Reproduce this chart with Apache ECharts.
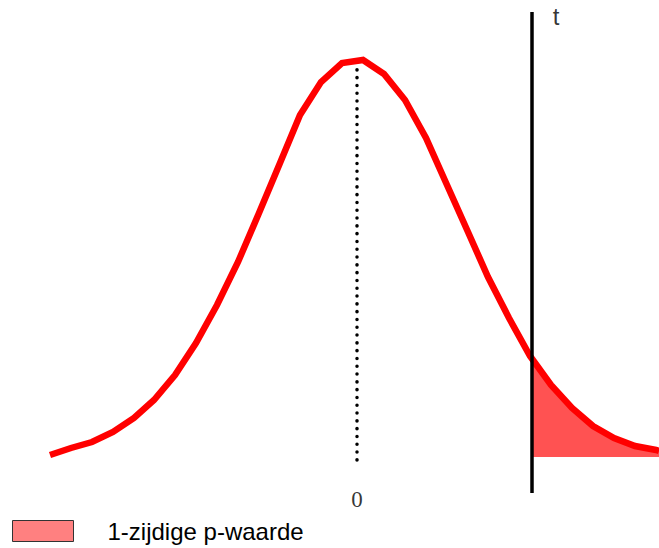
<!DOCTYPE html>
<html><head><meta charset="utf-8">
<script src="https://cdn.jsdelivr.net/npm/echarts@6/dist/echarts.min.js"></script>
<style>html,body{margin:0;padding:0;background:#fff}#c{width:659px;height:548px}</style>
</head><body><div id="c"></div>
<script>
// z-scores of the polyline vertices
const zValues = [-3.07,-2.86,-2.65,-2.44,-2.23,-2.03,-1.82,-1.61,-1.40,-1.19,-0.98,-0.77,-0.57,-0.36,-0.15,
                 0.06,0.27,0.48,0.69,0.90,1.11,1.31,1.52,1.73,1.94,2.15,2.36,2.57,2.78,2.99,3.02];
// density values at those vertices
const density = [0.002,0.009,0.015,0.025,0.039,0.057,0.082,0.114,0.152,0.195,0.244,0.294,0.342,0.375,0.394,
                 0.397,0.383,0.357,0.319,0.272,0.225,0.180,0.139,0.101,0.072,0.049,0.031,0.019,0.011,0.007,0.006];
const tValue = 1.75;          // observed t statistic
const tDensity = 0.100;       // curve height at t (read)
const centerValue = 0;        // mean
const centerDensity = 0.395;  // top of dotted line
const tickLabels = ['0'];
const tLabel = 't';
const legendLabel = '1-zijdige p-waarde';

const curve = zValues.map((z, i) => [z, density[i]]);
const tail = [[tValue, tDensity]].concat(curve.filter(p => p[0] > tValue));

const chart = echarts.init(document.getElementById('c'), null, {renderer: 'svg'});
chart.setOption({
  animation: false,
  backgroundColor: '#ffffff',
  grid: {left: 0, right: 0, top: 0, bottom: 0},
  xAxis: {type: 'value', min: -3.57, max: 3.02, show: false},
  yAxis: {type: 'value', min: -0.091, max: 0.457, show: false},
  legend: {
    left: 12, top: 519, padding: 0,
    itemWidth: 61, itemHeight: 21,
    icon: 'rect',
    data: [legendLabel],
    itemStyle: {color: '#ff8080', borderColor: '#333333', borderWidth: 1},
    textStyle: {fontFamily: 'Liberation Sans, Arial, sans-serif', fontSize: 24, color: '#000', padding: [0, 0, 0, 29]}
  },
  series: [
    {
      name: legendLabel, type: 'line', data: tail, symbol: 'none', z: 1,
      lineStyle: {width: 0, color: '#ff5252'},
      itemStyle: {color: '#ff8080'},
      areaStyle: {color: '#ff5252', opacity: 1}
    },
    {
      name: 'curve', type: 'line', data: curve, symbol: 'none', z: 3,
      lineStyle: {width: 6.5, color: '#ff0000', join: 'miter'}
    },
    {
      name: 'center', type: 'line', data: [[centerValue, centerDensity], [centerValue, -0.010]], symbol: 'none', z: 2,
      lineStyle: {width: 3.5, color: '#000', type: [0.1, 7.7], cap: 'round'}
    },
    {
      name: 'tline', type: 'line', data: [[tValue, 0.445], [tValue, -0.036]], symbol: 'none', z: 4,
      lineStyle: {width: 3.5, color: '#000'}
    },
    {
      name: 'labels', type: 'scatter', symbolSize: 0, z: 5,
      data: [
        {value: [centerValue, -0.042], label: {show: true, formatter: tickLabels[0], position: 'inside',
          fontFamily: 'Liberation Serif', fontSize: 23, color: '#000000', textBorderWidth: 0}},
        {value: [1.99, 0.441], label: {show: true, formatter: tLabel, position: 'inside',
          fontFamily: 'Liberation Sans', fontSize: 24, color: '#000000', textBorderWidth: 0}}
      ]
    }
  ]
});
</script>
</body></html>
